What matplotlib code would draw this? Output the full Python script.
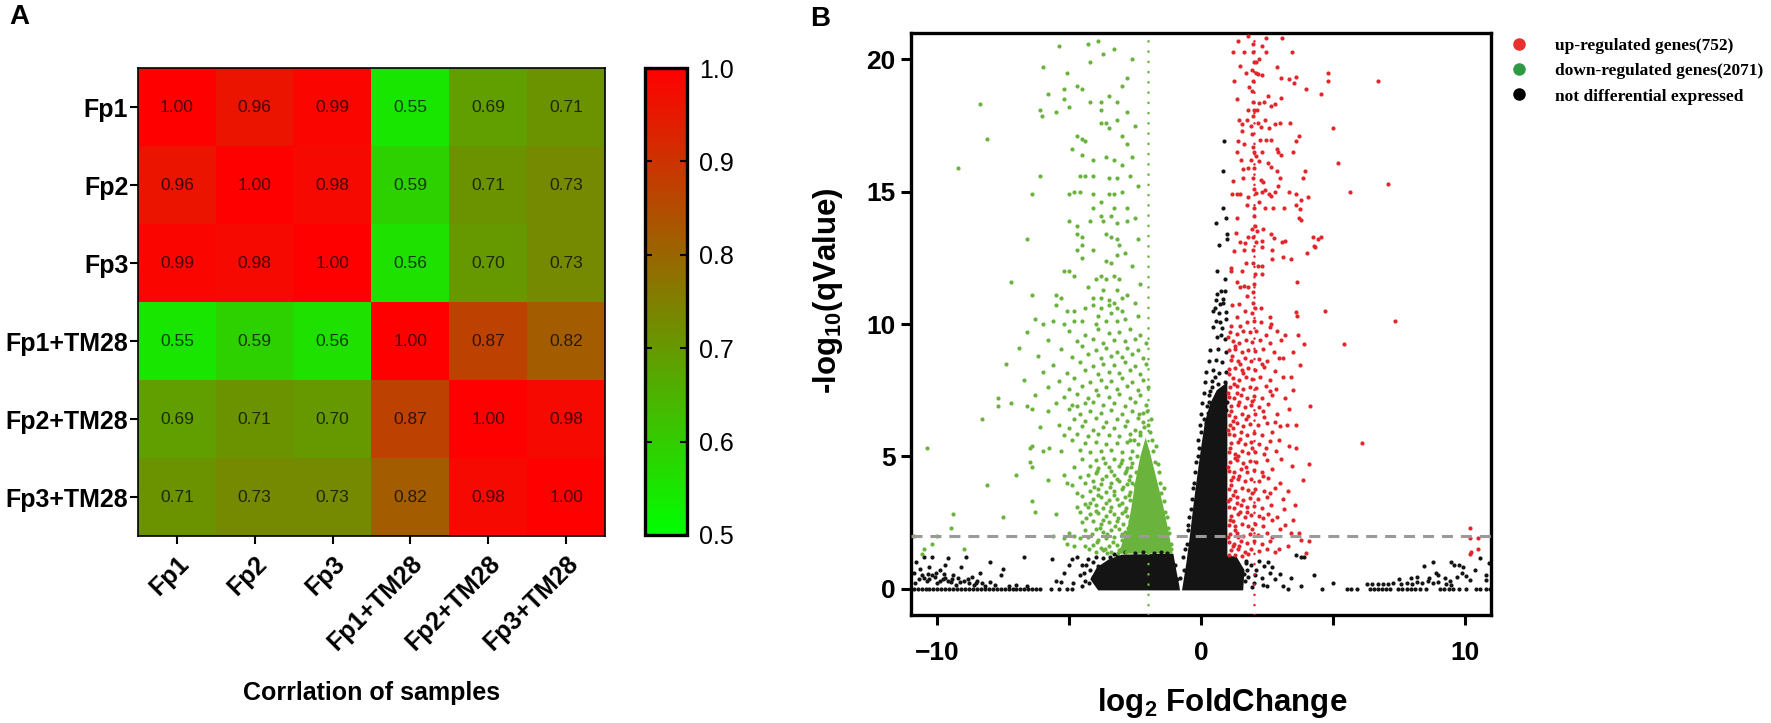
import numpy as np
import matplotlib
matplotlib.use("Agg")
import matplotlib.pyplot as plt
from matplotlib.colors import LinearSegmentedColormap
from matplotlib.lines import Line2D

plt.rcParams['font.family'] = ['Liberation Sans', 'DejaVu Sans']
plt.rcParams['mathtext.fontset'] = 'custom'
plt.rcParams['mathtext.rm'] = 'Liberation Sans'
plt.rcParams['mathtext.bf'] = 'Liberation Sans:bold'

# ---------------- panel A data ----------------
samples = ['Fp1', 'Fp2', 'Fp3', 'Fp1+TM28', 'Fp2+TM28', 'Fp3+TM28']
corr = np.array([
    [1.00, 0.96, 0.99, 0.55, 0.69, 0.71],
    [0.96, 1.00, 0.98, 0.59, 0.71, 0.73],
    [0.99, 0.98, 1.00, 0.56, 0.70, 0.73],
    [0.55, 0.59, 0.56, 1.00, 0.87, 0.82],
    [0.69, 0.71, 0.70, 0.87, 1.00, 0.98],
    [0.71, 0.73, 0.73, 0.82, 0.98, 1.00],
])
cbar_ticks = [0.5, 0.6, 0.7, 0.8, 0.9, 1.0]

# ---------------- panel B data (log2FC, -log10 q) ----------------
legend_labels = ['up-regulated genes(752)', 'down-regulated genes(2071)',
                 'not differential expressed']
q_cut = 2.0
fc_cut = 2.0

# outlines of the solid, fully overplotted cores
black_wedge = [(-0.72, -0.07), (-0.55, 1.0), (-0.42, 2.0), (-0.28, 3.2), (-0.15, 4.2),
               (0.0, 5.3), (0.15, 6.3), (0.35, 7.0), (0.6, 7.5), (1.0, 7.8),
               (1.0, 1.25), (1.35, 1.2), (1.65, 0.7), (1.6, -0.07)]
black_band = [(-3.9, -0.07), (-4.2, 0.35), (-3.95, 0.8), (-3.5, 1.1), (-3.0, 1.28),
              (-1.05, 1.32), (-0.92, 0.6), (-0.82, 0.1), (-0.8, -0.07)]
green_core = [(-3.1, 1.32), (-1.08, 1.32), (-1.2, 2.0), (-1.45, 3.2), (-1.7, 4.2),
              (-1.95, 5.2), (-2.1, 5.7), (-2.3, 5.0), (-2.5, 4.0), (-2.65, 3.0),
              (-2.8, 2.2), (-3.0, 1.7)]

green_pts = [
    (-9.2, 15.9), (-8.4, 18.3), (-8.1, 17.0), (-7.2, 11.6), (-6.6, 13.2), (-6.4, 14.9),
    (-6.4, 11.1), (-6.0, 19.7), (-6.1, 15.6), (-6.1, 18.1), (-6.05, 17.85), (-5.8, 18.7),
    (-5.4, 20.5), (-4.3, 20.6), (-3.9, 20.7), (-3.3, 20.4), (-3.7, 20.2), (-4.2, 19.9),
    (-5.1, 19.5), (-5.2, 18.9), (-5.2, 18.5), (-4.7, 19.0), (-4.5, 18.9), (-5.0, 18.2),
    (-4.7, 17.1), (-4.5, 17.0), (-4.4, 16.9), (-4.2, 18.4), (-3.8, 18.4), (-3.5, 18.6),
    (-3.2, 18.4), (-3.0, 19.0), (-3.8, 18.1), (-3.8, 17.6), (-3.6, 17.6), (-3.5, 17.4),
    (-3.2, 17.7), (-3.0, 17.1), (-2.8, 16.8), (-4.1, 16.2), (-3.6, 16.3), (-3.3, 16.2),
    (-4.6, 15.6), (-4.4, 15.6), (-4.1, 15.6), (-3.5, 15.5), (-3.2, 15.5), (-5.0, 14.9),
    (-4.8, 15.0), (-4.6, 15.0), (-4.1, 14.9), (-3.5, 14.9), (-3.3, 14.9), (-3.0, 15.0),
    (-4.1, 14.4), (-3.8, 14.6), (-3.3, 14.4), (-2.8, 14.4), (-3.8, 14.1), (-3.4, 14.1),
    (-5.0, 13.9), (-4.7, 13.7), (-4.2, 13.9), (-3.7, 13.9), (-2.8, 13.9), (-3.2, 13.8),
    (-4.7, 13.4), (-4.5, 13.3), (-3.6, 13.4), (-3.4, 13.3), (-3.2, 13.2), (-3.1, 13.0),
    (-4.5, 13.0), (-4.1, 12.8), (-4.7, 12.8), (-2.9, 12.7), (-3.2, 12.6), (-4.5, 12.5),
    (-3.6, 12.4), (-3.4, 12.3), (-5.0, 12.0), (-4.0, 11.7), (-3.8, 11.8), (-3.6, 11.7),
    (-3.3, 11.8), (-3.1, 11.7), (-5.2, 12.0), (-4.8, 11.8), (-5.5, 11.1), (-5.3, 11.0),
    (-4.1, 11.0), (-3.8, 11.0), (-3.5, 10.9), (-3.3, 10.8), (-3.0, 11.0), (-2.8, 11.1),
    (-5.5, 10.7), (-5.1, 10.5), (-4.8, 10.5), (-4.4, 10.6), (-4.1, 10.7), (-3.8, 10.6),
    (-3.5, 10.7), (-3.2, 10.6), (-3.0, 10.5), (-6.3, 10.2), (-6.0, 10.0), (-5.6, 10.1),
    (-5.2, 10.0), (-4.8, 10.1), (-4.5, 10.1), (-4.0, 10.0), (-3.6, 10.1), (-3.2, 10.1),
    (-2.6, 20.0), (-2.8, 19.3), (-2.8, 18.0), (-2.5, 17.5), (-2.6, 16.3), (-2.4, 15.2),
    (-2.7, 15.6), (-2.5, 14.0), (-2.4, 13.2), (-2.6, 12.2), (-2.3, 11.5), (-2.5, 10.8),
    (-2.4, 10.3), (-5.5, 18.0), (-4.9, 16.6), (-4.5, 16.4), (-3.0, 16.0), (-3.9, 10.3),
    (-3.4, 10.4), (-2.9, 10.2), (-3.7, 11.3), (-3.2, 11.3), (-4.3, 11.4),
    # y 5 - 10
    (-6.6, 9.7), (-5.0, 9.75), (-4.4, 9.6), (-3.9, 9.8), (-3.5, 9.65), (-3.1, 9.7),
    (-2.7, 9.8), (-2.3, 9.6), (-5.8, 9.4), (-4.7, 9.35), (-4.1, 9.45), (-3.7, 9.3),
    (-3.3, 9.4), (-2.9, 9.35), (-2.5, 9.45), (-2.1, 9.3), (-6.9, 9.1), (-5.3, 9.05),
    (-4.5, 9.15), (-4.0, 9.0), (-3.6, 9.1), (-3.2, 8.95), (-2.8, 9.1), (-2.4, 9.0),
    (-6.2, 8.8), (-4.9, 8.75), (-4.3, 8.85), (-3.8, 8.7), (-3.4, 8.8), (-3.0, 8.75),
    (-2.6, 8.85), (-2.2, 8.7), (-7.4, 8.5), (-5.6, 8.45), (-4.6, 8.55), (-4.1, 8.4),
    (-3.7, 8.5), (-3.3, 8.45), (-2.9, 8.55), (-2.5, 8.4), (-2.1, 8.5), (-6.0, 8.2),
    (-5.1, 8.15), (-4.4, 8.25), (-3.9, 8.1), (-3.5, 8.2), (-3.1, 8.15), (-2.7, 8.25),
    (-2.3, 8.1), (-6.7, 7.9), (-5.4, 7.85), (-4.8, 7.95), (-4.2, 7.8), (-3.8, 7.9),
    (-3.4, 7.85), (-3.0, 7.95), (-2.6, 7.8), (-2.2, 7.9), (-5.8, 7.6), (-5.0, 7.55),
    (-4.5, 7.65), (-4.0, 7.5), (-3.6, 7.6), (-3.2, 7.55), (-2.8, 7.65), (-2.4, 7.5),
    (-2.0, 7.6), (-6.3, 7.3), (-5.2, 7.25), (-4.7, 7.35), (-4.3, 7.2), (-3.9, 7.3),
    (-3.5, 7.25), (-3.1, 7.35), (-2.7, 7.2), (-2.3, 7.3), (-7.7, 7.2), (-7.7, 6.9),
    (-7.2, 7.0), (-6.6, 6.9), (-6.4, 6.8), (-5.5, 7.0), (-4.4, 7.0), (-4.9, 6.95),
    (-4.1, 7.05), (-3.7, 6.95), (-3.3, 7.0), (-2.9, 6.9), (-2.5, 7.05), (-2.1, 6.95),
    (-5.8, 6.7), (-5.0, 6.8), (-4.7, 6.9), (-4.6, 6.6), (-4.2, 6.7), (-3.8, 6.65),
    (-3.4, 6.75), (-3.0, 6.6), (-2.6, 6.7), (-2.2, 6.65), (-8.3, 6.4), (-5.4, 6.2),
    (-4.8, 6.4), (-4.4, 6.35), (-4.0, 6.45), (-3.6, 6.3), (-3.2, 6.4), (-2.8, 6.35),
    (-2.4, 6.45), (-6.1, 6.1), (-5.0, 6.05), (-4.5, 6.15), (-4.1, 6.0), (-3.7, 6.1),
    (-3.3, 6.05), (-2.9, 6.15), (-2.5, 6.0), (-2.15, 6.1), (-5.2, 5.8), (-4.7, 5.85),
    (-4.3, 5.75), (-3.9, 5.85), (-3.5, 5.8), (-3.1, 5.75), (-2.7, 5.85), (-2.3, 5.8),
    (-4.9, 5.6), (-4.4, 5.5), (-4.0, 5.55), (-3.6, 5.45), (-3.2, 5.5), (-2.8, 5.55),
    (-2.4, 5.45), (-10.4, 5.3), (-6.5, 5.3), (-6.4, 5.4), (-5.75, 5.3), (-6.0, 5.2),
    (-5.3, 5.2), (-4.6, 5.25), (-4.2, 5.15), (-3.8, 5.2), (-3.4, 5.25), (-3.0, 5.15),
    (-2.6, 5.2),
    # y 1.3 - 5
    (-8.1, 3.9), (-9.4, 2.8), (-9.5, 2.3), (-10.9, 2.0), (-10.2, 1.7), (-10.5, 1.5),
    (-10.6, 1.3), (-10.0, 2.0), (-9.0, 1.5), (-7.5, 2.7), (-7.0, 4.3), (-6.5, 4.8),
    (-6.4, 4.6), (-6.4, 3.3), (-6.3, 2.9), (-5.8, 4.1), (-5.5, 2.8), (-5.6, 2.0),
    (-5.2, 1.9), (-5.0, 2.1), (-4.8, 2.0), (-5.1, 1.7), (-4.8, 1.6), (-5.2, 4.3),
    (-5.1, 4.0), (-4.9, 3.9), (-4.6, 4.2), (-4.7, 3.6), (-4.5, 3.5), (-4.4, 3.2),
    (-4.7, 3.1), (-4.6, 2.9), (-4.5, 4.9), (-4.0, 4.85), (-3.7, 4.95), (-3.3, 4.9),
    (-3.0, 4.85), (-2.7, 4.95), (-4.8, 4.6), (-4.2, 4.65), (-3.9, 4.55), (-3.5, 4.6),
    (-3.1, 4.65), (-2.8, 4.55), (-4.3, 4.3), (-4.0, 4.35), (-3.6, 4.25), (-3.3, 4.3),
    (-2.9, 4.35), (-2.7, 4.25), (-4.4, 4.0), (-4.1, 4.05), (-3.8, 3.95), (-3.4, 4.0),
    (-3.1, 4.05), (-2.8, 3.95), (-2.6, 4.0), (-4.2, 3.7), (-3.9, 3.75), (-3.6, 3.65),
    (-3.3, 3.7), (-3.0, 3.75), (-2.7, 3.65), (-4.1, 3.4), (-3.8, 3.45), (-3.5, 3.35),
    (-3.2, 3.4), (-2.9, 3.45), (-2.7, 3.35), (-4.3, 3.1), (-4.0, 3.15), (-3.7, 3.05),
    (-3.4, 3.1), (-3.1, 3.15), (-2.85, 3.05), (-4.2, 2.8), (-3.9, 2.85), (-3.6, 2.75),
    (-3.3, 2.8), (-3.0, 2.85), (-2.8, 2.75), (-4.5, 2.5), (-4.1, 2.55), (-3.8, 2.45),
    (-3.5, 2.5), (-3.2, 2.55), (-2.95, 2.45), (-4.4, 2.2), (-4.0, 2.25), (-3.7, 2.15),
    (-3.4, 2.2), (-3.1, 2.25), (-2.9, 2.15), (-4.6, 1.9), (-4.3, 1.95), (-3.9, 1.85),
    (-3.6, 1.9), (-3.3, 1.95), (-3.0, 1.85), (-4.4, 1.6), (-4.1, 1.65), (-3.8, 1.55),
    (-3.5, 1.6), (-3.2, 1.65), (-2.95, 1.55), (-4.0, 1.4), (-3.7, 1.45), (-3.4, 1.4),
    (-3.1, 1.45), (-2.85, 1.4), (-2.0, 6.2), (-1.85, 5.6), (-2.3, 5.9), (-1.75, 4.8),
    (-1.6, 4.4), (-1.5, 3.6), (-1.35, 2.9), (-1.25, 2.3), (-1.15, 1.7), (-2.7, 5.6),
    (-2.65, 4.6),
    # flanks of the dense core
    (-4.25, 1.5), (-3.95, 1.75), (-3.65, 1.5), (-3.35, 1.75), (-3.05, 1.5), (-2.8, 1.7),
    (-4.15, 2.05), (-3.85, 2.3), (-3.55, 2.05), (-3.25, 2.35), (-2.98, 2.05), (-2.78, 2.3),
    (-4.35, 2.65), (-4.0, 2.95), (-3.7, 2.6), (-3.45, 2.95), (-3.15, 2.65), (-2.9, 2.95),
    (-2.7, 2.55), (-4.2, 3.25), (-3.9, 3.55), (-3.6, 3.25), (-3.3, 3.55), (-3.0, 3.25),
    (-2.75, 3.55), (-4.05, 3.85), (-3.75, 4.15), (-3.45, 3.85), (-3.2, 4.15), (-2.95, 3.85),
    (-2.72, 4.1), (-3.95, 4.45), (-3.65, 4.75), (-3.4, 4.45), (-3.05, 4.75), (-2.85, 4.45),
    (-2.6, 4.75), (-3.15, 1.35), (-3.55, 1.35), (-2.9, 1.85), (-2.65, 1.5), (-2.62, 2.2),
    (-2.58, 2.8), (-2.55, 3.35), (-2.5, 3.9), (-2.45, 4.4), (-2.42, 5.0), (-1.95, 5.9),
    (-1.82, 5.2), (-1.65, 4.7), (-1.55, 4.0), (-1.42, 3.3), (-1.3, 2.7), (-1.2, 2.1),
    (-1.12, 1.5), (-1.4, 3.8), (-1.7, 5.4), (-2.2, 6.3), (-2.55, 5.6), (-2.35, 6.6),
    (-2.05, 6.7), (-1.9, 6.4),
]

red_pts = [
    (1.79, 20.9), (1.42, 20.7), (1.98, 20.6), (2.45, 20.8), (3.07, 20.8), (1.22, 20.3),
    (1.62, 20.3), (1.99, 20.3), (2.3, 20.5), (2.45, 20.3), (3.46, 20.3), (1.47, 19.75),
    (2.0, 19.9), (2.1, 19.9), (2.2, 20.0), (2.9, 19.7), (1.69, 19.5), (1.92, 19.6),
    (2.1, 19.5), (2.3, 19.4), (2.18, 19.45), (1.26, 19.2), (1.98, 19.2), (3.04, 19.3),
    (3.32, 19.25), (3.62, 19.35), (3.52, 19.1), (4.0, 18.9), (4.82, 19.5), (4.82, 19.2),
    (4.57, 18.7), (6.7, 19.2), (1.83, 18.95), (1.95, 18.8), (1.35, 18.5), (1.98, 18.4),
    (2.2, 18.35), (2.39, 18.4), (2.55, 18.6), (2.67, 18.25), (2.8, 18.3), (3.03, 18.55),
    (1.77, 18.1), (2.0, 18.1), (2.14, 18.1), (1.46, 17.7), (1.74, 17.7), (1.99, 17.85),
    (2.42, 17.7), (1.55, 17.55), (1.9, 17.5), (2.15, 17.6), (2.28, 17.45), (2.58, 17.4),
    (2.8, 17.55), (3.0, 17.6), (3.38, 17.6), (1.4, 16.9), (1.56, 17.3), (1.95, 17.2),
    (2.23, 16.95), (2.45, 16.95), (2.64, 16.95), (3.73, 17.1), (3.6, 16.9), (5.0, 17.4),
    (1.62, 16.8), (1.98, 16.7), (1.38, 16.5), (2.0, 16.5), (2.3, 16.5), (2.87, 16.6),
    (2.93, 16.5), (3.05, 16.4), (3.5, 16.5), (1.52, 16.2), (1.88, 16.2), (2.08, 16.35),
    (2.2, 16.15), (2.55, 16.1), (2.66, 15.95), (2.87, 15.8), (5.18, 16.1), (3.0, 15.5),
    (3.85, 15.5), (3.93, 15.8), (1.6, 15.85), (1.79, 15.9), (2.0, 15.9), (1.22, 15.4),
    (1.6, 15.5), (1.98, 15.5), (2.26, 15.45), (2.36, 15.35), (1.16, 14.9), (1.35, 14.9),
    (1.48, 14.9), (1.77, 14.8), (2.0, 15.1), (2.1, 14.95), (2.33, 15.0), (2.44, 15.05),
    (2.57, 14.9), (2.67, 14.85), (2.82, 15.0), (2.92, 15.2), (3.33, 14.98), (3.6, 14.9),
    (3.81, 14.7), (4.04, 14.8), (5.67, 15.0), (7.1, 15.3), (1.73, 14.5), (2.0, 14.4),
    (2.2, 14.6), (2.42, 14.4), (2.74, 14.4), (3.16, 14.4), (3.62, 14.5), (3.75, 14.35),
    (3.71, 14.0), (3.78, 13.95), (1.38, 14.0), (2.0, 14.1), (2.04, 13.7), (1.95, 13.6),
    (2.36, 13.6), (2.12, 13.5), (1.32, 13.45), (1.48, 13.1), (1.67, 13.05), (1.79, 13.3),
    (1.98, 13.3), (2.1, 13.1), (2.32, 13.13), (2.67, 13.4), (2.76, 13.25), (3.06, 13.1),
    (3.19, 13.13), (4.23, 13.3), (4.42, 13.2), (4.57, 13.3), (4.32, 12.9), (4.03, 12.7),
    (1.27, 12.75), (1.63, 12.8), (1.98, 12.8), (2.33, 12.9), (2.69, 12.8), (2.71, 12.45),
    (3.12, 12.55), (3.4, 12.45), (4.29, 12.95), (1.14, 12.1), (1.15, 12.0), (1.54, 12.0),
    (1.69, 12.3), (1.98, 12.3), (2.15, 12.2), (2.32, 12.2), (2.05, 11.9), (2.32, 11.9),
    (1.38, 11.6), (1.48, 11.4), (1.63, 11.45), (1.79, 11.4), (2.0, 11.5), (3.65, 11.6),
    (1.76, 11.05), (1.98, 11.2), (1.98, 10.8), (1.18, 10.7), (1.44, 10.75), (1.37, 10.25),
    (1.65, 10.5), (1.95, 10.4), (2.06, 10.6), (2.29, 10.6), (2.61, 10.25), (2.65, 10.0),
    (3.65, 10.3), (4.7, 10.5), (7.35, 10.1), (1.12, 9.93), (1.48, 9.93), (1.73, 10.06),
    (2.0, 10.12), (2.27, 10.06), (3.62, 10.44),
    # y 1.2 - 10
    (1.1, 9.7), (1.35, 9.62), (1.6, 9.75), (1.85, 9.68), (2.1, 9.72), (2.45, 9.6),
    (2.9, 9.74), (3.68, 9.58), (1.2, 9.35), (1.45, 9.3), (1.7, 9.4), (1.95, 9.33),
    (2.25, 9.38), (2.6, 9.28), (3.05, 9.4), (3.9, 9.24), (1.05, 9.0), (1.3, 9.05),
    (1.55, 8.95), (1.8, 9.02), (2.05, 8.98), (2.35, 9.06), (2.75, 8.94), (3.5, 8.93),
    (5.43, 9.24), (1.15, 8.65), (1.4, 8.6), (1.65, 8.7), (1.9, 8.62), (2.2, 8.68),
    (2.5, 8.6), (2.95, 8.7), (1.05, 8.3), (1.3, 8.35), (1.55, 8.25), (1.8, 8.33),
    (2.05, 8.28), (2.4, 8.36), (2.8, 8.24), (3.77, 8.45), (1.2, 7.95), (1.45, 7.9),
    (1.7, 8.0), (1.95, 7.92), (2.25, 7.98), (2.6, 7.9), (3.1, 8.0), (1.1, 7.6),
    (1.35, 7.65), (1.6, 7.55), (1.85, 7.63), (2.1, 7.58), (2.45, 7.66), (2.85, 7.54),
    (3.5, 7.5), (1.05, 7.25), (1.25, 7.2), (1.5, 7.3), (1.75, 7.22), (2.0, 7.28),
    (2.3, 7.2), (2.7, 7.3), (3.2, 7.22), (1.15, 6.9), (1.4, 6.95), (1.65, 6.85),
    (1.9, 6.93), (2.2, 6.88), (2.55, 6.96), (3.35, 6.78), (4.15, 6.9), (1.05, 6.55),
    (1.3, 6.5), (1.55, 6.6), (1.8, 6.52), (2.05, 6.58), (2.4, 6.5), (2.9, 6.6),
    (1.1, 6.2), (1.35, 6.25), (1.6, 6.15), (1.85, 6.23), (2.15, 6.18), (2.5, 6.26),
    (3.0, 6.14), (3.6, 6.2), (1.05, 5.85), (1.25, 5.8), (1.5, 5.9), (1.75, 5.82),
    (2.0, 5.88), (2.3, 5.8), (2.7, 5.9), (1.15, 5.5), (1.4, 5.55), (1.65, 5.45),
    (1.9, 5.53), (2.2, 5.48), (2.6, 5.56), (3.33, 5.4), (6.12, 5.49), (1.05, 5.15),
    (1.3, 5.1), (1.55, 5.2), (1.8, 5.12), (2.05, 5.18), (2.4, 5.1), (2.85, 5.2),
    (1.1, 4.8), (1.35, 4.85), (1.6, 4.75), (1.85, 4.83), (2.1, 4.78), (2.5, 4.86),
    (3.05, 4.9), (4.1, 4.7), (1.05, 4.45), (1.25, 4.4), (1.5, 4.5), (1.75, 4.42),
    (2.0, 4.48), (2.3, 4.4), (2.7, 4.5), (3.47, 4.64), (1.15, 4.1), (1.4, 4.15),
    (1.65, 4.05), (1.9, 4.13), (2.2, 4.08), (2.55, 4.16), (3.0, 4.0), (3.88, 4.1),
    (1.05, 3.75), (1.3, 3.7), (1.55, 3.8), (1.8, 3.72), (2.05, 3.78), (2.4, 3.7),
    (2.8, 3.8), (1.1, 3.4), (1.35, 3.45), (1.6, 3.35), (1.85, 3.43), (2.15, 3.38),
    (2.5, 3.46), (3.1, 3.4), (1.05, 3.1), (1.25, 3.05), (1.5, 3.15), (1.75, 3.07),
    (2.0, 3.13), (2.3, 3.05), (2.65, 3.15), (3.56, 3.16), (1.15, 2.75), (1.4, 2.8),
    (1.65, 2.7), (1.9, 2.78), (2.2, 2.73), (2.55, 2.81), (2.9, 2.7), (1.05, 2.4),
    (1.3, 2.35), (1.55, 2.45), (1.8, 2.37), (2.05, 2.43), (2.35, 2.35), (2.7, 2.6),
    (3.2, 2.4), (1.1, 2.05), (1.35, 2.1), (1.6, 2.0), (1.85, 2.08), (2.15, 2.03),
    (2.5, 2.11), (3.4, 2.1), (3.7, 2.1), (1.05, 1.75), (1.25, 1.7), (1.5, 1.8),
    (1.75, 1.72), (2.0, 1.78), (2.3, 1.7), (2.6, 1.8), (3.8, 1.85), (4.1, 1.8),
    (1.15, 1.45), (1.4, 1.5), (1.65, 1.4), (1.9, 1.48), (2.2, 1.43), (2.5, 1.51),
    (2.95, 1.5), (4.0, 1.35), (1.05, 1.25), (1.3, 1.28), (1.55, 1.22), (1.8, 1.3),
    (2.8, 1.4), (10.2, 2.3), (10.2, 1.9), (10.26, 1.4), (10.2, 1.3), (10.5, 1.5),
    (10.5, 1.9),
    # denser fill next to the threshold
    (1.02, 9.5), (1.08, 8.1), (1.02, 7.4), (1.12, 6.7), (1.02, 6.0), (1.1, 5.3),
    (1.02, 4.6), (1.12, 3.9), (1.02, 3.3), (1.1, 2.6), (1.02, 1.95), (1.22, 1.6),
    (1.28, 9.15), (1.25, 7.75), (1.22, 6.35), (1.28, 4.95), (1.22, 3.55), (1.28, 2.2),
    (1.48, 8.5), (1.45, 7.05), (1.48, 5.65), (1.45, 4.25), (1.48, 2.9), (1.45, 1.6),
    (1.18, 8.8), (1.6, 8.15), (2.3, 8.5), (1.35, 7.4), (1.95, 7.1), (2.6, 7.45),
    (1.2, 6.05), (1.7, 6.4), (2.35, 6.7), (1.4, 5.0), (1.95, 5.3), (2.45, 5.3),
    (1.2, 4.2), (1.7, 4.6), (2.35, 4.25), (1.35, 3.25), (1.95, 3.6), (2.6, 3.6),
    (1.2, 2.55), (1.75, 2.9), (2.35, 2.65), (1.4, 1.95), (1.95, 2.25), (2.7, 1.95),
    (3.0, 2.25), (3.3, 1.6), (3.5, 2.6), (3.15, 3.0), (3.3, 3.7), (2.95, 5.6),
    (3.25, 6.2), (3.6, 5.3), (2.8, 6.3), (3.4, 8.0), (3.1, 8.7), (2.6, 9.9),
    (3.2, 9.6),
]

black_pts = [
    # sparse tip of the central wedge
    (0.88, 16.9), (0.82, 15.8), (0.85, 14.4), (0.93, 14.0), (0.57, 13.8), (0.97, 13.4),
    (1.0, 13.2), (0.68, 12.97), (0.59, 12.0), (0.9, 11.7), (0.59, 11.15), (0.74, 11.25),
    (0.9, 11.25), (0.44, 10.5), (0.53, 10.6), (0.72, 10.75), (0.84, 10.8), (0.57, 10.1),
    (0.72, 10.06), (0.93, 10.2), (0.55, 10.9), (0.85, 10.95), (0.7, 10.4), (0.95, 10.45),
    (0.45, 9.9), (0.8, 9.85), (0.6, 9.5), (0.9, 9.45), (0.75, 9.6), (0.35, 9.0),
    (0.65, 9.05), (0.95, 8.95), (0.3, 8.6), (0.55, 8.65), (0.8, 8.55), (0.2, 8.2),
    (0.45, 8.25), (0.7, 8.15), (0.95, 8.2), (0.15, 7.8), (0.4, 7.85), (0.65, 7.75),
    (0.9, 7.8), (0.1, 7.4), (0.35, 7.45), (0.6, 7.35), (0.85, 7.4), (0.05, 7.0),
    (0.3, 7.05), (0.55, 6.95), (0.8, 7.0), (1.0, 7.05), (0.0, 6.6), (0.25, 6.65),
    (0.5, 6.55), (0.75, 6.7), (0.95, 6.75), (-0.05, 6.2), (0.2, 6.25), (0.45, 6.4),
    (-0.1, 5.6), (-0.2, 4.8), (-0.32, 3.8), (-0.45, 2.7), (-0.55, 1.7), (-0.66, 0.7),
    (-0.8, 0.4), (-0.7, 1.2), (-0.62, 1.5), (-0.5, 2.2), (-0.48, 2.4), (-0.38, 3.0),
    (-0.35, 3.4), (-0.25, 4.0), (-0.22, 4.4), (-0.12, 5.0), (-0.08, 5.3), (0.0, 5.9),
    (0.1, 6.4), (0.22, 6.9), (0.3, 7.3), (0.4, 7.6), (0.52, 8.0),
    # left band, ragged end
    (-4.7, 1.2), (-4.5, 0.9), (-4.6, 0.5), (-4.3, 1.1), (-4.2, 0.7), (-4.4, 0.3),
    (-4.0, 1.2), (-3.9, 0.85), (-4.1, 0.45), (-3.8, 0.1), (-3.7, 1.15), (-3.6, 0.6),
    (-5.0, 0.9), (-5.2, 0.6), (-5.65, 1.1), (-6.7, 1.2), (-5.5, 0.3), (-4.85, 0.2),
    (-3.3, 1.3), (-2.5, 1.36), (-1.8, 1.35), (-1.3, 1.36), (-4.9, 1.1), (-4.5, 0.1),
    (-2.9, 1.38), (-2.2, 1.38), (-1.5, 1.4), (-1.15, 1.2), (-0.98, 0.9), (-0.9, 0.35),
    (-3.2, 1.25), (-3.45, 1.2), (-4.35, 0.9), (-4.45, 0.6), (-4.25, 0.2), (-4.1, 1.0),
    # y = 0 row and cluster, left side
    (-10.9, 0.0), (-10.75, 0.0), (-10.6, 0.0), (-10.45, 0.0), (-10.3, 0.0), (-10.15, 0.0),
    (-10.0, 0.0), (-9.85, 0.0), (-9.7, 0.0), (-9.55, 0.0), (-9.4, 0.0), (-9.25, 0.0),
    (-9.1, 0.0), (-8.95, 0.0), (-8.8, 0.0), (-8.65, 0.0), (-8.5, 0.0), (-8.35, 0.0),
    (-8.2, 0.0), (-8.05, 0.0), (-7.9, 0.0), (-7.75, 0.0), (-7.6, 0.0), (-7.45, 0.0),
    (-7.3, 0.0), (-7.15, 0.0), (-7.0, 0.0), (-6.85, 0.0), (-6.7, 0.0), (-6.55, 0.0),
    (-6.4, 0.0), (-6.25, 0.0), (-6.1, 0.0), (-5.7, 0.0), (-5.4, 0.0), (-5.1, 0.0),
    (-5.3, 0.25), (-4.9, 0.0),
    (-10.8, 1.0), (-10.6, 0.5), (-10.5, 1.2), (-10.4, 0.3), (-10.3, 0.8), (-10.2, 1.2),
    (-10.1, 0.45), (-10.0, 0.2), (-9.9, 0.7), (-9.8, 0.35), (-9.7, 0.9), (-9.6, 1.15),
    (-9.5, 0.25), (-9.4, 0.5), (-9.3, 0.15), (-9.2, 0.4), (-9.1, 0.8), (-9.0, 0.3),
    (-8.9, 1.2), (-8.8, 0.2), (-8.7, 0.45), (-8.6, 0.15), (-8.5, 0.3), (-8.4, 0.6),
    (-8.3, 0.2), (-8.2, 0.1), (-8.0, 1.0), (-8.0, 0.25), (-7.8, 0.15), (-7.6, 0.5),
    (-7.5, 0.75), (-7.3, 0.1), (-7.0, 0.15), (-6.6, 0.1), (-10.7, 0.35), (-10.5, 0.4),
    (-10.3, 0.35), (-10.2, 0.5), (-9.9, 0.3), (-9.7, 0.4), (-9.6, 0.3), (-10.85, 0.2),
    (-10.9, 0.6), (-10.65, 0.75), (-10.35, 0.55), (-10.05, 0.6), (-9.75, 0.55),
    (-9.45, 0.35), (-9.15, 0.25), (-8.85, 0.35), (-8.55, 0.2),
    # right of the wedge, below the red genes
    (1.7, 1.05), (1.8, 0.45), (1.9, 0.9), (2.0, 0.2), (2.1, 0.7), (2.2, 1.05),
    (2.3, 0.4), (2.4, 0.85), (2.5, 0.1), (2.6, 0.6), (2.7, 0.8), (2.8, 0.35),
    (3.0, 0.55), (3.1, 0.1), (3.3, 0.0), (3.6, 1.25), (3.8, 1.2), (3.9, 1.2),
    (3.8, 0.1), (4.3, 0.5), (4.6, 0.0), (5.0, 0.2), (1.75, 0.7), (2.05, 0.5),
    (2.35, 0.15), (1.95, 0.05), (2.55, 1.0), (3.4, 0.4), (1.65, 0.3), (1.7, 0.95),
    (1.62, 0.55),
    # y = 0 row and cluster, right side
    (5.52, 0.0), (5.7, 0.0), (5.9, 0.0), (6.4, 0.0), (6.55, 0.0), (6.7, 0.0),
    (6.85, 0.0), (7.0, 0.0), (7.16, 0.0), (7.47, 0.0), (7.62, 0.0), (7.8, 0.0),
    (7.95, 0.0), (8.1, 0.0), (8.3, 0.0), (8.55, 0.0), (9.05, 0.0), (9.2, 0.0),
    (9.4, 0.0), (9.56, 0.0), (9.8, 0.0), (10.06, 0.0), (10.44, 0.0), (10.6, 0.0),
    (10.8, 0.0), (10.95, 0.0), (6.3, 0.19), (6.5, 0.19), (6.7, 0.19), (6.9, 0.19),
    (7.1, 0.19), (7.3, 0.21), (7.6, 0.19), (7.8, 0.21), (8.0, 0.19), (8.2, 0.24),
    (8.4, 0.22), (8.6, 0.27), (8.8, 0.2), (9.0, 0.25), (9.3, 0.19), (8.45, 0.87),
    (8.8, 1.0), (8.9, 0.6), (9.5, 1.0), (9.6, 0.9), (9.8, 0.9), (9.94, 0.8),
    (9.9, 0.6), (10.06, 0.47), (10.2, 0.34), (10.57, 1.17), (10.92, 0.95), (10.8, 0.53),
    (10.8, 0.34), (9.24, 0.4), (9.43, 0.28), (9.5, 0.15), (8.2, 0.45), (7.5, 0.35),
    (9.0, 0.5), (9.7, 0.45), (10.4, 0.7), (8.65, 0.4), (7.95, 0.4),
]

# ---------------- styles ----------------
W, H = 1771, 723
red = '#e3262b'
green = '#6ab43e'
black = '#141414'
cmap = LinearSegmentedColormap.from_list('gr', ['#00ff00', '#ff0000'])

fig = plt.figure(figsize=(W / 100, H / 100), dpi=100)

# ---------------- panel A ----------------
ax = fig.add_axes([138 / W, 1 - 536 / H, 467 / W, 468 / H])
im = ax.imshow(corr, cmap=cmap, vmin=0.5, vmax=1.0, aspect='auto')
n = len(samples)
for i in range(n):
    for j in range(n):
        ax.text(j, i, f'{corr[i, j]:.2f}', ha='center', va='center',
                fontsize=12.5, color='black', alpha=0.72)
ax.set_xticks(range(n))
ax.set_yticks(range(n))
ax.set_xticklabels(samples, rotation=45, ha='right', rotation_mode='anchor',
                   fontsize=18, fontweight='bold')
ax.set_yticklabels(samples, fontsize=18, fontweight='bold')
ax.tick_params(axis='x', length=6, width=1.5, pad=5)
ax.tick_params(axis='y', length=6, width=1.5, pad=1)
for s in ax.spines.values():
    s.set_linewidth(1.2)
ax.set_xlabel('Corrlation of samples', fontsize=18, fontweight='bold')
ax.xaxis.set_label_coords(0.5, -0.31)

cax = fig.add_axes([645 / W, 1 - 535 / H, 42 / W, 467 / H])
cb = fig.colorbar(im, cax=cax, ticks=cbar_ticks)
cb.outline.set_linewidth(2.4)
cax.set_yticklabels([f'{t:.1f}' for t in cbar_ticks])
cax.tick_params(direction='in', left=True, right=True, length=5, width=1.5,
                labelsize=18, pad=9)

fig.text(9 / W, 1 - 4 / H, 'A', fontsize=20, fontweight='bold', ha='left', va='top')
fig.text(810 / W, 1 - 6 / H, 'B', fontsize=20, fontweight='bold', ha='left', va='top')

# ---------------- panel B ----------------
axv = fig.add_axes([911 / W, 1 - 615 / H, 580 / W, 582 / H])
for poly in (black_wedge, black_band):
    px, py = zip(*poly)
    axv.fill(px, py, color=black, lw=0, zorder=1)
gx, gy = zip(*green_core)
axv.fill(gx, gy, color=green, lw=0, zorder=1)

b = np.array(black_pts)
g = np.array(green_pts)
r = np.array(red_pts)
axv.scatter(b[:, 0], b[:, 1], s=9, c=black, linewidths=0, zorder=2)
axv.scatter(g[:, 0], g[:, 1], s=9, c=green, linewidths=0, zorder=3)
axv.scatter(r[:, 0], r[:, 1], s=9, c=red, linewidths=0, zorder=3)

axv.axhline(q_cut, color='#9a9a9a', lw=2.2, ls=(0, (3.6, 2.6)), zorder=5)
axv.axvline(-fc_cut, color=green, lw=1.8, ls=(0, (0.1, 4.0)),
            dash_capstyle='round', zorder=5)
axv.axvline(fc_cut, color=red, lw=1.8, ls=(0, (0.1, 4.0)),
            dash_capstyle='round', zorder=5)

axv.set_xlim(-11, 11)
axv.set_ylim(-1, 21)
axv.set_xticks([-10, 0, 10])
axv.set_xticks([-5, 5], minor=True)
axv.set_yticks([0, 5, 10, 15, 20])
axv.tick_params(which='both', length=7, width=2.2, direction='out')
axv.tick_params(axis='x', which='major', pad=12, labelsize=19)
axv.tick_params(axis='y', pad=4, labelsize=19)
for lab in axv.get_xticklabels() + axv.get_yticklabels():
    lab.set_fontweight('bold')
for s in axv.spines.values():
    s.set_linewidth(2.4)
axv.set_xlabel(r'log$_{\mathbf{2}}$ FoldChange', fontsize=22.5, fontweight='bold')
axv.xaxis.set_label_coords(0.536, -0.122)
axv.set_ylabel(r'-log$_{\mathbf{10}}$(qValue)', fontsize=22.5, fontweight='bold')
axv.yaxis.set_label_coords(-0.114, 0.557)

handles = [Line2D([], [], marker='o', ls='', color=c, markersize=8)
           for c in ('#e8312f', '#2f9a46', 'black')]
fig.legend(handles, legend_labels, loc='upper left',
           bbox_to_anchor=(1510 / W, 1 - 38 / H), frameon=False,
           prop={'family': 'Liberation Serif', 'weight': 'bold', 'size': 12.5},
           handlelength=1.0, handletextpad=1.57, labelspacing=0.52,
           borderpad=0, borderaxespad=0)

fig.savefig('out.png', dpi=100)
